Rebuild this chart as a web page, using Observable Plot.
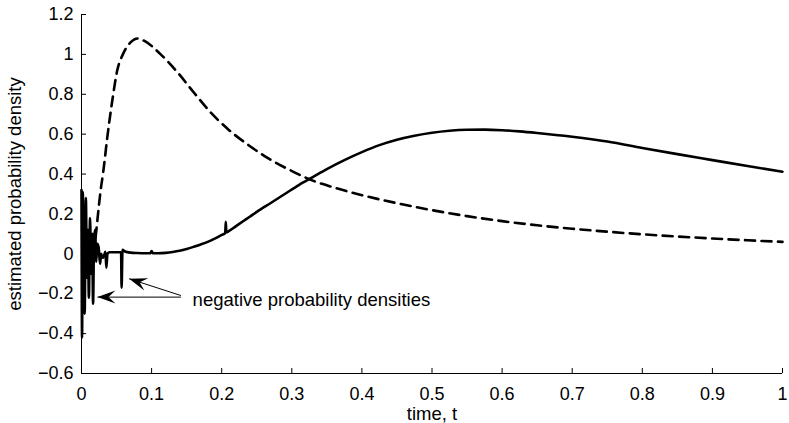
<!DOCTYPE html>
<html>
<head>
<meta charset="utf-8">
<script src="https://cdn.jsdelivr.net/npm/d3@7"></script>
<script src="https://cdn.jsdelivr.net/npm/@observablehq/plot@0.6"></script>
<style>
  html, body { margin: 0; padding: 0; background: #fff; }
  #chart svg { display: block; }
</style>
</head>
<body>
<div id="chart"></div>
<script>
// ---- tick values and labels ----
const xTicks = [0, 0.1, 0.2, 0.3, 0.4, 0.5, 0.6, 0.7, 0.8, 0.9, 1];
const xTickLabels = ["0", "0.1", "0.2", "0.3", "0.4", "0.5", "0.6", "0.7", "0.8", "0.9", "1"];
const yTicks = [-0.6, -0.4, -0.2, 0, 0.2, 0.4, 0.6, 0.8, 1, 1.2];
const yTickLabels = ["\u22120.6", "\u22120.4", "\u22120.2", "0", "0.2", "0.4", "0.6", "0.8", "1", "1.2"];
const xLabel = "time, t";
const yLabel = "estimated probability density";

// ---- solid series (estimated density, with negative values near t = 0) ----
const solidT = [
  0, 0.0008, 0.0018, 0.003, 0.0045, 0.0062, 0.0078, 0.0092, 0.0105, 0.0122,
  0.0138, 0.0152, 0.0165, 0.018, 0.0195, 0.021, 0.0225, 0.0245, 0.0265, 0.028,
  0.03, 0.032, 0.034, 0.0355, 0.037, 0.04, 0.045, 0.05, 0.0555, 0.0565,
  0.0572, 0.0585, 0.062, 0.07, 0.08, 0.09, 0.098, 0.1, 0.102, 0.11,
  0.12, 0.13, 0.14, 0.15, 0.16, 0.17, 0.18, 0.19, 0.2, 0.205,
  0.2058, 0.2066, 0.21, 0.22, 0.23, 0.24, 0.25, 0.27, 0.29, 0.31,
  0.33, 0.35, 0.375, 0.4, 0.425, 0.45, 0.475, 0.5, 0.525, 0.55,
  0.575, 0.6, 0.625, 0.65, 0.7, 0.75, 0.8, 0.85, 0.9, 0.95, 1
];
const solidY = [
  0.32, -0.42, 0.31, -0.05, -0.30, 0.28, -0.12, 0.12, -0.22, 0.18,
  -0.10, 0.10, -0.25, 0.08, 0.12, -0.04, 0.05, 0.03, -0.05, 0.0,
  -0.02, -0.01, 0.01, -0.07, 0.0, 0.008, 0.008, 0.008, 0.008, 0.005,
  -0.17, 0.02, 0.012, 0.006, 0.004, 0.003, 0.003, 0.014, 0.003, 0.003,
  0.005, 0.009, 0.015, 0.024, 0.035, 0.047, 0.06, 0.076, 0.095, 0.104,
  0.16, 0.108, 0.114, 0.138, 0.162, 0.186, 0.21, 0.255, 0.3, 0.345,
  0.385, 0.425, 0.47, 0.51, 0.545, 0.572, 0.592, 0.607, 0.617, 0.622,
  0.623, 0.62, 0.614, 0.606, 0.587, 0.563, 0.531, 0.5, 0.47, 0.44, 0.412
];

// ---- dashed series (reference density) ----
const dashedT = [
  0.017, 0.02, 0.023, 0.027, 0.031, 0.037, 0.044, 0.051, 0.059, 0.07,
  0.08, 0.091, 0.113, 0.137, 0.16, 0.184, 0.209, 0.237, 0.266, 0.303,
  0.33, 0.36, 0.4, 0.45, 0.5, 0.55, 0.6, 0.65, 0.7, 0.75, 0.8,
  0.85, 0.9, 0.95, 1
];
const dashedY = [
  0.0, 0.08, 0.18, 0.31, 0.41, 0.59, 0.77, 0.92, 1.0, 1.06,
  1.08, 1.065, 1.0, 0.91, 0.81, 0.71, 0.625, 0.548, 0.48, 0.41,
  0.367, 0.333, 0.294, 0.254, 0.219, 0.189, 0.164, 0.143, 0.126, 0.111, 0.098,
  0.087, 0.077, 0.068, 0.06
];

// ---- annotation ----
const noteText = "negative probability densities";
const noteT = 0.1585;
const noteY = -0.232;
const arrowTailT = [0.1418, 0.1418];
const arrowTailY = [-0.217, -0.209];
const arrowTipT = [0.0228, 0.068];
const arrowTipY = [-0.217, -0.125];

// ---- build tables ----
const solid = solidT.map((t, i) => ({t, v: solidY[i]}));
const dashed = dashedT.map((t, i) => ({t, v: dashedY[i]}));
const arrows = arrowTailT.map((t, i) => ({x1: t, y1: arrowTailY[i], x2: arrowTipT[i], y2: arrowTipY[i]}));

const FONT = "'Liberation Sans', Arial, Helvetica, sans-serif";
const FS_TICK = 18;
const FS_TEXT = 18.5;

// notched filled arrowhead pointing to -x, tip at origin
const arrowHead = {
  draw(ctx) {
    const L = 18, W = 6.5, N = 11;
    ctx.moveTo(0, 0);
    ctx.lineTo(L, -W);
    ctx.lineTo(N, 0);
    ctx.lineTo(L, W);
    ctx.closePath();
  }
};

function baseOptions(extraMarks) {
  return {
    width: 789,
    height: 423,
    marginLeft: 81,
    marginRight: 7,
    marginTop: 14,
    marginBottom: 50,
    style: {fontFamily: FONT, fontSize: FS_TICK + "px", color: "#000", background: "#fff", overflow: "visible"},
    x: {domain: [0, 1]},
    y: {domain: [-0.6, 1.2]},
    marks: [
      Plot.ruleX([0], {stroke: "#000", strokeWidth: 1}),
      Plot.ruleY([-0.6], {stroke: "#000", strokeWidth: 1}),
      Plot.axisX({ticks: xTicks, tickFormat: (d, i) => xTickLabels[i], tickSize: -5, tickPadding: 19, fontSize: FS_TICK, label: null, stroke: "#000"}),
      Plot.axisY({ticks: yTicks, tickFormat: (d, i) => yTickLabels[i], tickSize: -5, tickPadding: 13, fontSize: FS_TICK, label: null, stroke: "#000"}),
      Plot.text([xLabel], {text: d => d, frameAnchor: "bottom", lineAnchor: "middle", dy: 40.5, fontSize: FS_TEXT, fill: "#000"}),
      Plot.text([yLabel], {text: d => d, frameAnchor: "left", textAnchor: "middle", rotate: -90, dx: -66, fontSize: FS_TEXT, fill: "#000"}),
      Plot.line(dashed, {x: "t", y: "v", curve: "monotone-x", stroke: "#000", strokeWidth: 2.6, strokeDasharray: "10,6.5", strokeLinejoin: "round"}),
      Plot.line(solid, {x: "t", y: "v", curve: "monotone-x", stroke: "#000", strokeWidth: 2.6, strokeLinejoin: "round"}),
      Plot.link(arrows, {x1: "x1", y1: "y1", x2: "x2", y2: "y2", stroke: "#000", strokeWidth: 1}),
      Plot.text([noteText], {text: d => d, x: () => noteT, y: () => noteY, textAnchor: "start", fontSize: FS_TEXT, fill: "#000"}),
      ...extraMarks
    ]
  };
}

// first pass: obtain the scales to orient the arrowheads in screen space
const probe = Plot.plot(baseOptions([]));
const sx = probe.scale("x"), sy = probe.scale("y");
arrows.forEach(a => {
  const dx = sx.apply(a.x2) - sx.apply(a.x1);
  const dy = sy.apply(a.y2) - sy.apply(a.y1);
  a.angle = Math.atan2(-dy, -dx) * 180 / Math.PI;
});

const chart = Plot.plot(baseOptions([
  Plot.dot(arrows, {x: "x2", y: "y2", symbol: arrowHead, rotate: "angle", fill: "#000", stroke: "none", r: 5})
]));
document.getElementById("chart").appendChild(chart);
</script>
</body>
</html>
